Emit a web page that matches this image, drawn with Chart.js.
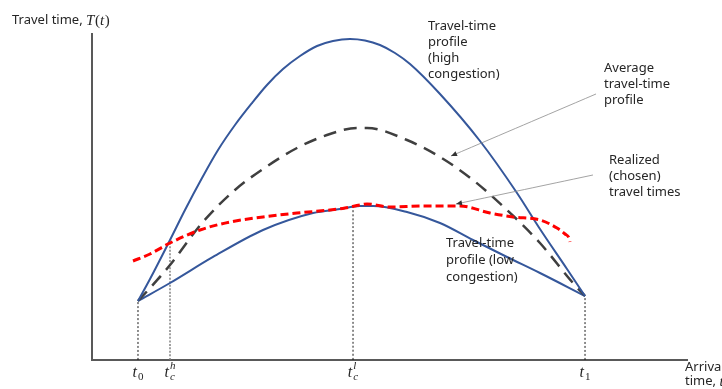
<!DOCTYPE html>
<html>
<head>
<meta charset="utf-8">
<script src="https://cdn.jsdelivr.net/npm/chart.js@4.4.1/dist/chart.umd.min.js"></script>
<style>
  html, body { margin: 0; padding: 0; background: #ffffff; }
  #wrap { width: 722px; height: 389px; }
</style>
</head>
<body>
<div id="wrap"><canvas id="c" width="722" height="389"></canvas></div>
<script>
// Arrival time (x) and travel time (y) in arbitrary units, axis range 0..100.
const highTime   = [7.73, 9.75, 13.11, 15.63, 18.49, 21.18, 24.03, 26.89, 29.41, 32.10, 34.96, 37.82, 40.50, 43.36, 45.88, 48.40, 50.92, 53.45, 58.49, 65.21, 71.43, 75.29, 79.83, 82.86];
const highTravel = [18.10, 24.85, 36.81, 46.01, 55.83, 64.42, 72.09, 78.83, 84.36, 89.26, 93.25, 96.32, 97.85, 98.47, 98.01, 96.63, 94.17, 90.80, 81.60, 67.18, 51.23, 40.18, 27.91, 19.63];

const avgTime   = [7.73, 9.75, 13.11, 18.49, 24.03, 28.74, 34.45, 40.00, 44.54, 46.22, 52.94, 58.49, 64.03, 69.75, 75.29, 80.84, 82.86];
const avgTravel = [18.10, 22.09, 29.14, 42.02, 52.15, 58.59, 65.03, 69.33, 71.17, 71.17, 67.48, 62.27, 55.21, 46.01, 35.89, 23.62, 19.63];

const realTime   = [6.89, 9.75, 13.11, 18.15, 23.19, 28.74, 34.45, 40.00, 42.52, 45.04, 46.22, 50.08, 55.63, 61.85, 66.89, 70.76, 75.29, 78.15, 79.50, 80.17, 80.34];
const realTravel = [30.37, 32.52, 35.89, 39.88, 42.33, 43.87, 45.09, 46.01, 46.63, 47.55, 47.85, 46.93, 47.24, 47.24, 45.09, 43.87, 42.94, 40.49, 38.65, 37.42, 36.20];

const lowTime   = [7.73, 13.11, 20.34, 28.74, 37.14, 41.68, 45.04, 47.23, 52.94, 58.49, 64.03, 69.75, 75.29, 82.86];
const lowTravel = [18.10, 23.62, 31.60, 39.88, 45.09, 46.32, 47.24, 47.24, 45.40, 42.02, 36.81, 31.60, 26.69, 19.63];

// Marked instants on the time axis and the height of each guide line
const tickTimes  = [7.73, 13.11, 43.87, 82.86];
const tickSub    = ['0', 'c', 'c', '1'];
const tickSup    = ['', 'h', 'l', ''];
const guideTops  = [18.10, 35.89, 46.90, 19.63];

// Pointer lines for the notes (tail, head)
const avgPointerTime   = [84.71, 60.34];
const avgPointerTravel = [81.60, 62.58];
const realPointerTime   = [84.20, 61.18];
const realPointerTravel = [56.75, 47.85];

const zip = (xs, ys) => xs.map((x, i) => ({ x: x, y: ys[i] }));

const BLUE = '#35579b';
const TEXT = '#262626';
const SANS = '"Noto Sans", "Open Sans", sans-serif';
const MATH = '"Liberation Serif", "DejaVu Serif", serif';

// Notes placed in data units: left edge, centre of first line, line step (px)
const notes = [
  { x: 56.47, y: 102.45, step: 16, lines: ['Travel-time', 'profile', '(high', 'congestion)'] },
  { x: 86.05, y: 89.57, step: 16, lines: ['Average', 'travel-time', 'profile'] },
  { x: 86.89, y: 61.35, step: 16, lines: ['Realized', '(chosen)', 'travel times'] },
  { x: 59.50, y: 35.89, step: 17, lines: ['Travel-time', 'profile (low', 'congestion)'] }
];

const guideSets = tickTimes.map((t, i) => ({
  data: [{ x: t, y: 0 }, { x: t, y: guideTops[i] }],
  borderColor: i === 1 ? '#7a7a7a' : '#1a1a1a',
  borderWidth: i === 1 ? 1.4 : 1,
  borderDash: i === 1 ? [2, 1.5] : [2, 2],
  order: 5
}));

const decorations = {
  id: 'decorations',
  afterDatasetsDraw(chart) {
    const { ctx, scales: { x, y }, chartArea } = chart;
    ctx.save();

    // arrow heads at the end of the pointer lines
    [[avgPointerTime, avgPointerTravel], [realPointerTime, realPointerTravel]].forEach(([ts, vs]) => {
      const x0 = x.getPixelForValue(ts[0]), y0 = y.getPixelForValue(vs[0]);
      const x1 = x.getPixelForValue(ts[1]), y1 = y.getPixelForValue(vs[1]);
      const a = Math.atan2(y1 - y0, x1 - x0);
      const len = 6, half = 2.6;
      ctx.fillStyle = '#333333';
      ctx.beginPath();
      ctx.moveTo(x1, y1);
      ctx.lineTo(x1 - len * Math.cos(a) + half * Math.sin(a), y1 - len * Math.sin(a) - half * Math.cos(a));
      ctx.lineTo(x1 - len * Math.cos(a) - half * Math.sin(a), y1 - len * Math.sin(a) + half * Math.cos(a));
      ctx.closePath();
      ctx.fill();
    });

    // notes
    ctx.fillStyle = TEXT;
    ctx.font = '13px ' + SANS;
    ctx.textAlign = 'left';
    ctx.textBaseline = 'middle';
    notes.forEach(n => {
      const px = x.getPixelForValue(n.x);
      const py = y.getPixelForValue(n.y);
      n.lines.forEach((line, i) => ctx.fillText(line, px, py + i * n.step));
    });

    // vertical axis title: "Travel time, T(t)"
    const tx = 12, ty = chartArea.top - 14;
    ctx.font = '13px ' + SANS;
    ctx.fillText('Travel time, ', tx, ty);
    let cx = tx + ctx.measureText('Travel time, ').width;
    const mathPieces = [['italic', 'T'], ['normal', '('], ['italic', 't'], ['normal', ')']];
    mathPieces.forEach(([style, s]) => {
      ctx.font = style + ' 15px ' + MATH;
      ctx.fillText(s, cx, ty + 1);
      cx += ctx.measureText(s).width + (style === 'italic' ? 0.6 : 0);
    });

    // horizontal axis title
    ctx.font = '13px ' + SANS;
    const ax = chartArea.right - 2;
    ctx.fillText('Arrival', ax, chartArea.bottom + 7);
    ctx.fillText('time, ', ax, chartArea.bottom + 21);
    const tw = ctx.measureText('time, ').width;
    ctx.font = 'italic 15px ' + MATH;
    ctx.fillText('t', ax + tw, chartArea.bottom + 22);

    // time-axis instants: t with subscript / superscript
    ctx.textBaseline = 'alphabetic';
    tickTimes.forEach((t, i) => {
      const px = x.getPixelForValue(t);
      ctx.font = 'italic 16px ' + MATH;
      const wT = ctx.measureText('t').width;
      const subFont = (/[0-9]/.test(tickSub[i]) ? '' : 'italic ') + '11px ' + MATH;
      ctx.font = subFont;
      const wSub = ctx.measureText(tickSub[i]).width;
      ctx.font = 'italic 11px ' + MATH;
      const wSup = tickSup[i] ? ctx.measureText(tickSup[i]).width : 0;
      const total = wT + 1 + Math.max(wSub, wSup);
      const left = px - total / 2;
      const base = chartArea.bottom + 17;
      ctx.font = 'italic 16px ' + MATH;
      ctx.fillText('t', left, base);
      ctx.font = subFont;
      ctx.fillText(tickSub[i], left + wT + 1, base + 3);
      if (tickSup[i]) {
        ctx.font = 'italic 11px ' + MATH;
        ctx.fillText(tickSup[i], left + wT + 1, base - 8);
      }
    });

    ctx.restore();
  }
};

const curve = { cubicInterpolationMode: 'monotone' };

new Chart(document.getElementById('c'), {
  type: 'scatter',
  data: {
    datasets: [
      Object.assign({ label: 'Travel-time profile (high congestion)', data: zip(highTime, highTravel),
        borderColor: BLUE, borderWidth: 2, order: 2 }, curve),
      Object.assign({ label: 'Average travel-time profile', data: zip(avgTime, avgTravel),
        borderColor: '#3f3f3f', borderWidth: 2.5, borderDash: [13, 8], order: 3 }, curve),
      Object.assign({ label: 'Travel-time profile (low congestion)', data: zip(lowTime, lowTravel),
        borderColor: BLUE, borderWidth: 2, order: 4 }, curve),
      Object.assign({ label: 'Realized (chosen) travel times', data: zip(realTime, realTravel),
        borderColor: '#ff0000', borderWidth: 3, borderDash: [8, 4], order: 1 }, curve),
      { label: 'pointer-avg', data: zip(avgPointerTime, avgPointerTravel),
        borderColor: '#8c8c8c', borderWidth: 0.8, order: 0 },
      { label: 'pointer-real', data: zip(realPointerTime, realPointerTravel),
        borderColor: '#8c8c8c', borderWidth: 0.8, order: 0 },
      ...guideSets.map((g, i) => Object.assign({ label: 'guide-' + i }, g))
    ].map(d => Object.assign({ showLine: true, pointRadius: 0, pointHoverRadius: 0, fill: false, tension: 0.4 }, d))
  },
  options: {
    responsive: false,
    animation: false,
    devicePixelRatio: 1,
    layout: { padding: { left: 92, top: 34, right: 35, bottom: 29 } },
    plugins: { legend: { display: false }, tooltip: { enabled: false } },
    scales: {
      x: {
        type: 'linear', min: 0, max: 100,
        grid: { display: false, drawTicks: false },
        ticks: { display: false },
        border: { display: true, color: '#595959', width: 2 }
      },
      y: {
        type: 'linear', min: 0, max: 100,
        grid: { display: false, drawTicks: false },
        ticks: { display: false },
        border: { display: true, color: '#595959', width: 2 }
      }
    }
  },
  plugins: [decorations]
});
</script>
</body>
</html>
